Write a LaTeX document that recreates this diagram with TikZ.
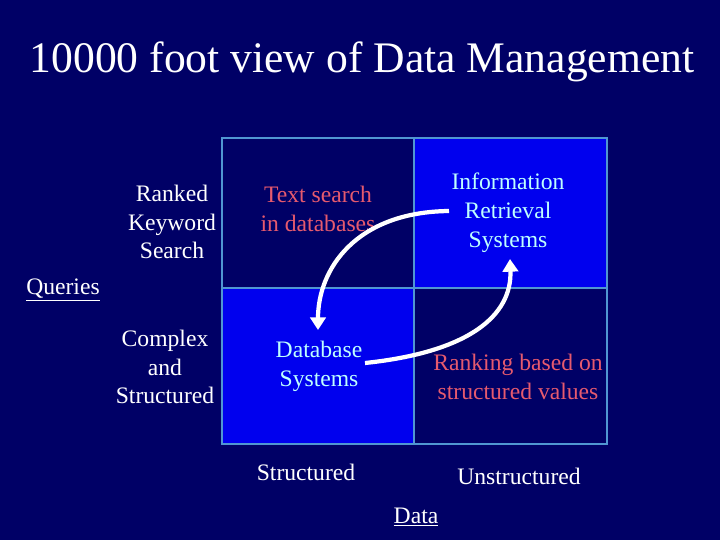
\documentclass[tikz,border=0pt]{standalone}
\usepackage{fontspec}
\setmainfont{Liberation Serif}
\usetikzlibrary{arrows.meta}
\definecolor{slidebg}{RGB}{0,0,102}
\definecolor{cellblue}{RGB}{0,0,238}
\definecolor{gridline}{RGB}{80,150,210}
\definecolor{redtext}{RGB}{230,90,110}
\definecolor{cyantext}{RGB}{190,255,255}
\tikzset{
    lbl/.style={text=white, align=center, font=\fontsize{16.8}{20.5}\selectfont},
    cell/.style={draw=gridline, line width=0.8pt},
    flow/.style={white, line width=3pt, -{Triangle[length=9pt, width=11pt]}}
}
\begin{document}
\begin{tikzpicture}[x=0.025cm, y=-0.025cm]
        % Background
        \fill[slidebg] (0,0) rectangle (720,540);
        \useasboundingbox (0,0) rectangle (720,540);

        % Title
        \node[text=white, font=\fontsize{31}{36}\selectfont] (title) at (362,62) {10000 foot view of Data Management};

        % Cells
        \filldraw[cell, fill=slidebg] (222,138) rectangle (414,288);
        \filldraw[cell, fill=cellblue] (414,138) rectangle (607,288);
        \filldraw[cell, fill=cellblue] (222,288) rectangle (414,444);
        \filldraw[cell, fill=slidebg] (414,288) rectangle (607,444);

        % Cell texts
        \node[lbl, text=redtext] (textsearch) at (318,209) {Text search\\in databases};
        \node[lbl, text=cyantext] (irsys) at (508,213) {Information\\Retrieval\\Systems};
        \node[lbl, text=cyantext] (dbsys) at (319,366) {Database\\Systems};
        \node[lbl, text=redtext] (ranking) at (518,377) {Ranking based on\\structured values};

        % Row and column labels
        \node[lbl] (ranked) at (172,222) {Ranked\\Keyword\\Search};
        \node[lbl] (complex) at (165,367) {Complex\\and\\Structured};
        \node[lbl] (queries) at (63,290) {\underline{Queries}};
        \node[lbl] (structured) at (306,472) {Structured};
        \node[lbl] (unstructured) at (519,476) {Unstructured};
        \node[lbl] (data) at (416,517) {\underline{Data}};

        % Arrows
        \coordinate (a1) at (449,211);
        \coordinate (a2) at (318,330);
        \coordinate (b1) at (365,363);
        \coordinate (b2) at (510,259);
        \draw[flow] (a1) .. controls (355,212) and (318,270) .. (a2);
        \draw[flow] (b1) .. controls (470,352) and (512,315) .. (b2);

    \end{tikzpicture}
\end{document}
